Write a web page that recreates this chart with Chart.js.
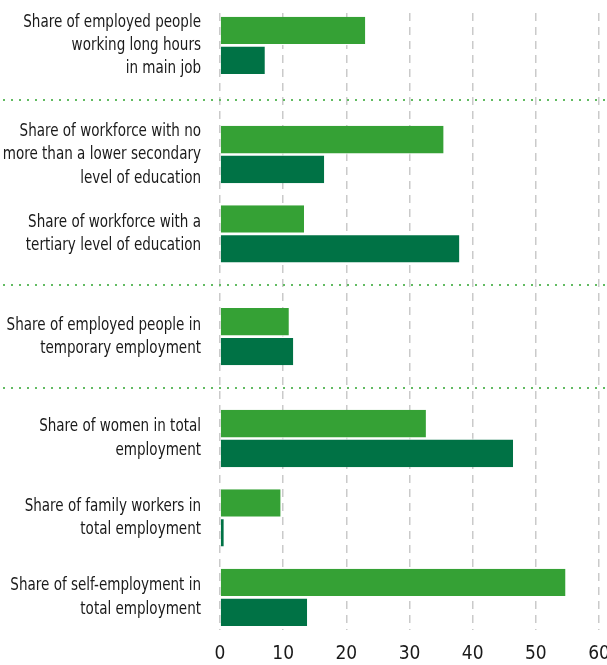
<!DOCTYPE html>
<html>
<head>
<meta charset="utf-8">
<script src="https://cdn.jsdelivr.net/npm/chart.js@4"></script>
<style>
  html, body { margin: 0; padding: 0; background: #fff; }
  #wrap { width: 607px; height: 665px; position: relative; }
</style>
</head>
<body>
<div id="wrap"><canvas id="chart"></canvas></div>
<script>
const categories = [
  ["Share of employed people", "working long hours", "in main job"],
  ["Share of workforce with no", "more than a lower secondary", "level of education"],
  ["Share of workforce with a", "tertiary level of education"],
  ["Share of employed people in", "temporary employment"],
  ["Share of women in total", "employment"],
  ["Share of family workers in", "total employment"],
  ["Share of self-employment in", "total employment"],
];
// which block each indicator belongs to (blocks are split by dotted rules)
const groups = [0, 1, 1, 2, 3, 3, 3];
const lightValues = [23.0, 35.4, 13.3, 10.9, 32.6, 9.6, 54.7];
const darkValues = [7.1, 16.5, 37.9, 11.6, 46.4, 0.6, 13.8];
const xTicks = [0, 10, 20, 30, 40, 50, 60];

const FONT = "'DejaVu Sans Condensed', 'DejaVu Sans', sans-serif";
const LIGHT = "#35a135";
const DARK = "#007245";
const TEXT = "#1a1a1a";

// extra room between blocks, in row units
const blockGaps = [0.375, 0.295, 0.282];

function rowPositions() {
  const pos = [];
  let shift = 0;
  groups.forEach((g, i) => {
    if (i > 0 && g !== groups[i - 1]) shift += blockGaps[g - 1];
    pos.push(i + shift);
  });
  return pos;
}
const rows = rowPositions();

// category labels: right aligned, squeezed horizontally for a narrow face
const LABEL_SIZE = 18;
const LABEL_LINE = 23.4;
const LABEL_SQUEEZE = 0.835;
const categoryLabels = {
  id: "categoryLabels",
  afterDraw(chart) {
    const { ctx } = chart;
    const y = chart.scales.y;
    const right = chart.chartArea.left - 19;
    ctx.save();
    ctx.font = `${LABEL_SIZE}px ${FONT}`;
    ctx.fillStyle = TEXT;
    ctx.textAlign = "right";
    ctx.textBaseline = "middle";
    categories.forEach((lines, i) => {
      const cy = y.getPixelForValue(rows[i]);
      const top = cy - ((lines.length - 1) * LABEL_LINE) / 2;
      lines.forEach((line, k) => {
        ctx.save();
        ctx.translate(right, top + k * LABEL_LINE);
        ctx.scale(LABEL_SQUEEZE, 1);
        ctx.fillText(line, 0, 0);
        ctx.restore();
      });
    });
    ctx.restore();
  },
};

const blockRules = {
  id: "blockRules",
  afterDraw(chart) {
    const { ctx } = chart;
    const y = chart.scales.y;
    ctx.save();
    ctx.strokeStyle = "#62bb62";
    ctx.lineWidth = 2;
    ctx.setLineDash([2, 6]);
    for (let i = 1; i < groups.length; i++) {
      if (groups[i] === groups[i - 1]) continue;
      const py = Math.round((y.getPixelForValue(rows[i - 1]) + y.getPixelForValue(rows[i])) / 2);
      ctx.beginPath();
      ctx.moveTo(3, py);
      ctx.lineTo(chart.width, py);
      ctx.stroke();
    }
    ctx.restore();
  },
};

new Chart(document.getElementById("chart"), {
  type: "bar",
  data: {
    datasets: [
      {
        data: lightValues.map((v, i) => ({ x: v, y: rows[i] })),
        backgroundColor: LIGHT,
        borderColor: "#fff",
        borderWidth: { top: 0, right: 0, bottom: 1.35, left: 0 },
      },
      {
        data: darkValues.map((v, i) => ({ x: v, y: rows[i] })),
        backgroundColor: DARK,
        borderColor: "#fff",
        borderWidth: { top: 1.35, right: 0, bottom: 0, left: 0 },
      },
    ],
  },
  options: {
    indexAxis: "y",
    responsive: true,
    maintainAspectRatio: false,
    animation: false,
    layout: { padding: { top: 13, right: 8, bottom: 0, left: 0 } },
    datasets: {
      bar: { barThickness: 28.65, borderSkipped: false, inflateAmount: 0 },
    },
    plugins: { legend: { display: false }, tooltip: { enabled: false } },
    scales: {
      x: {
        type: "linear",
        min: 0,
        max: 60,
        grid: { color: "#cacaca", lineWidth: 1.5, drawTicks: false },
        border: { display: false, dash: [8, 6] },
        afterBuildTicks: (s) => { s.ticks = xTicks.map((v) => ({ value: v })); },
        afterFit: (s) => { s.height = 35; s.paddingLeft = 0; s.paddingRight = 0; },
        ticks: { padding: 13, color: TEXT, font: { family: FONT, size: 19 } },
      },
      y: {
        type: "linear",
        reverse: true,
        offset: false,
        min: -0.407,
        max: 7.364,
        grid: { display: false, drawTicks: false },
        border: { display: false },
        afterBuildTicks: (s) => { s.ticks = rows.map((v) => ({ value: v })); },
        afterFit: (s) => { s.width = 220; s.paddingTop = 0; s.paddingBottom = 0; },
        ticks: { display: false },
      },
    },
  },
  plugins: [categoryLabels, blockRules],
});
</script>
</body>
</html>
